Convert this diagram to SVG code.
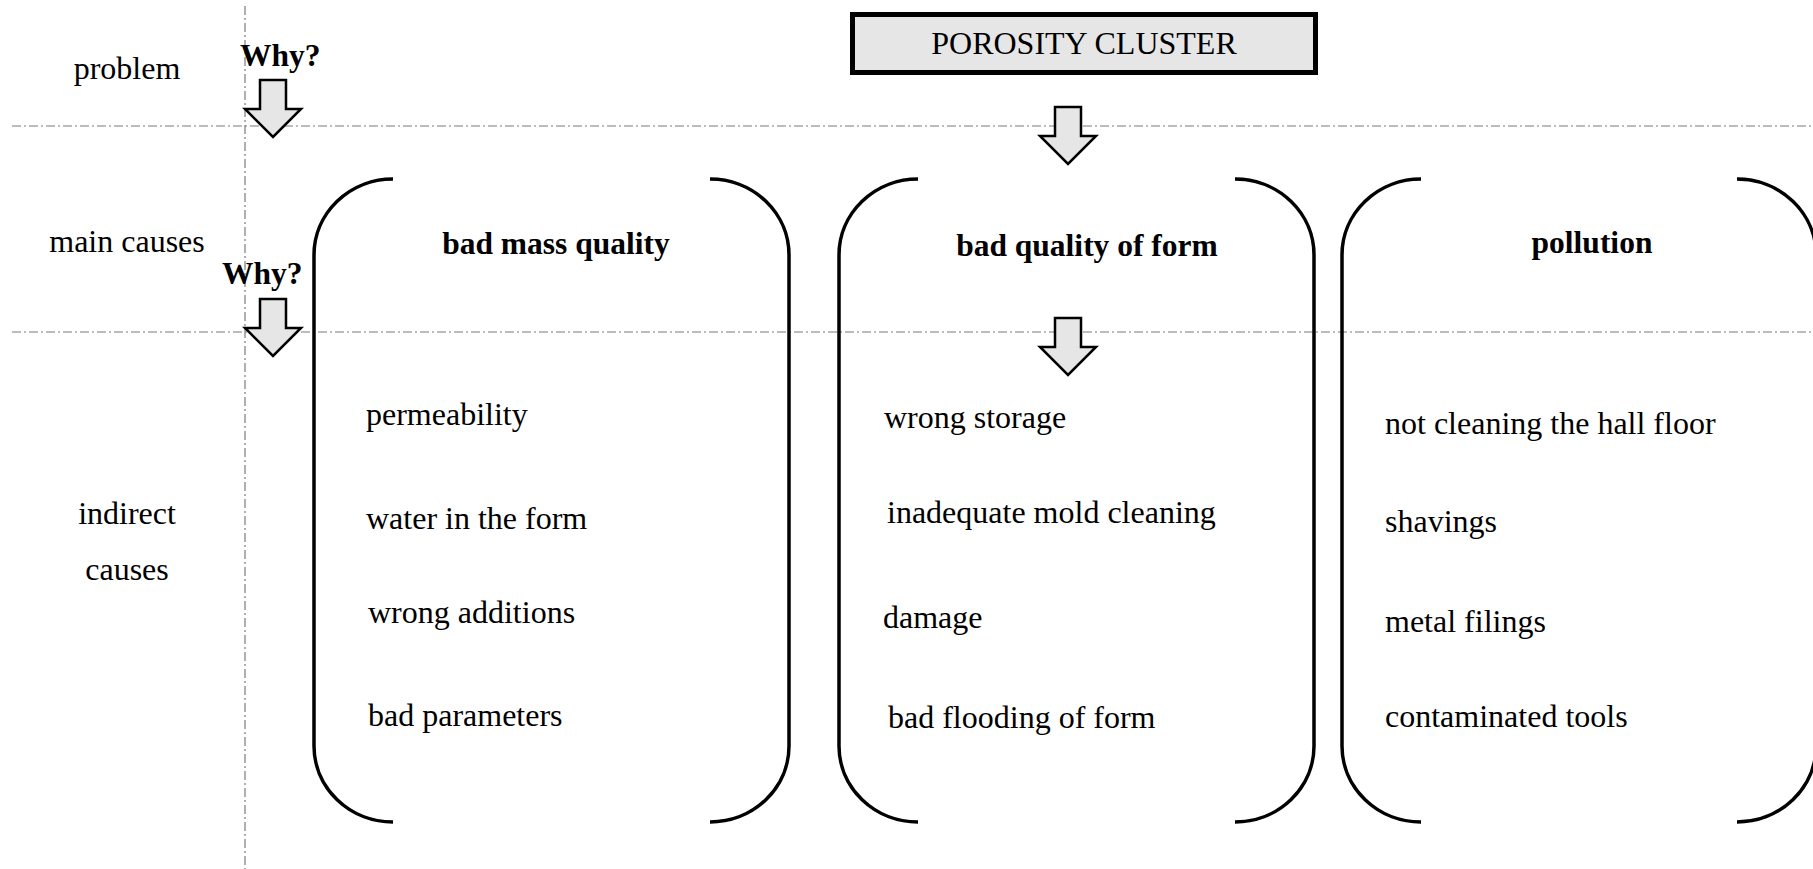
<svg xmlns="http://www.w3.org/2000/svg" width="1813" height="869" viewBox="0 0 1813 869">
<style>
.grid{stroke:#7a7a7a;stroke-width:1.2;stroke-dasharray:9 3 2 3;fill:none}
.br{fill:none;stroke:#000;stroke-width:3.5}
.arr{fill:#e6e6e6;stroke:#000;stroke-width:2.5;stroke-linejoin:miter}
.t{font-family:"Liberation Serif","Times New Roman",serif;font-size:32px;fill:#000}
.b{font-family:"Liberation Serif","Times New Roman",serif;font-size:31.5px;font-weight:bold;fill:#000}
.m{text-anchor:middle}
</style>
<rect width="1813" height="869" fill="#fff"/>
<g id="gridlines">
<line class="grid" x1="12" y1="126" x2="1813" y2="126"/>
<line class="grid" x1="12" y1="332" x2="1813" y2="332"/>
<line class="grid" x1="245" y1="6" x2="245" y2="869"/>
</g>
<g id="row-labels">
<text class="t m" x="127" y="79">problem</text>
<text class="t m" x="127" y="252">main causes</text>
<text class="t m" x="127" y="524">indirect</text>
<text class="t m" x="127" y="580">causes</text>
<text class="b" x="240" y="66">Why?</text>
<text class="b" x="222" y="284">Why?</text>
</g>
<g id="problem">
<rect x="852.5" y="14.5" width="463" height="58" fill="#e6e6e6" stroke="#000" stroke-width="5"/>
<text class="t m" x="1084" y="54">POROSITY CLUSTER</text>
</g>
<g id="connectors">
<polygon class="arr" points="260,80 286,80 286,109 301,109 273,137 245,109 260,109"/>
<polygon class="arr" points="260,299 286,299 286,328 301,328 273,356 245,328 260,328"/>
<polygon class="arr" points="1055,107 1081,107 1081,136 1096,136 1068,164 1040,136 1055,136"/>
<polygon class="arr" points="1055,318 1081,318 1081,347 1096,347 1068,375 1040,347 1055,347"/>
</g>
<g id="cause-mass">
<path class="br" d="M393 179 A79 76 0 0 0 314 255 L314 746 A79 76 0 0 0 393 822"/>
<path class="br" d="M710 179 A79 76 0 0 1 789 255 L789 746 A79 76 0 0 1 710 822"/>
<text class="b m" x="556" y="254">bad mass quality</text>
<text class="t" x="366" y="425">permeability</text>
<text class="t" x="366" y="529">water in the form</text>
<text class="t" x="368" y="623">wrong additions</text>
<text class="t" x="368" y="726">bad parameters</text>
</g>
<g id="cause-form">
<path class="br" d="M918 179 A79 76 0 0 0 839 255 L839 746 A79 76 0 0 0 918 822"/>
<path class="br" d="M1235 179 A79 76 0 0 1 1314 255 L1314 746 A79 76 0 0 1 1235 822"/>
<text class="b m" x="1087" y="256">bad quality of form</text>
<text class="t" x="884" y="428">wrong storage</text>
<text class="t" x="887" y="523">inadequate mold cleaning</text>
<text class="t" x="883" y="628">damage</text>
<text class="t" x="888" y="728">bad flooding of form</text>
</g>
<g id="cause-pollution">
<path class="br" d="M1421 179 A79 76 0 0 0 1342 255 L1342 746 A79 76 0 0 0 1421 822"/>
<path class="br" d="M1737 179 A79 76 0 0 1 1816 255 L1816 746 A79 76 0 0 1 1737 822"/>
<text class="b m" x="1592" y="253">pollution</text>
<text class="t" x="1385" y="434">not cleaning the hall floor</text>
<text class="t" x="1385" y="532">shavings</text>
<text class="t" x="1385" y="632">metal filings</text>
<text class="t" x="1385" y="727">contaminated tools</text>
</g>
</svg>
